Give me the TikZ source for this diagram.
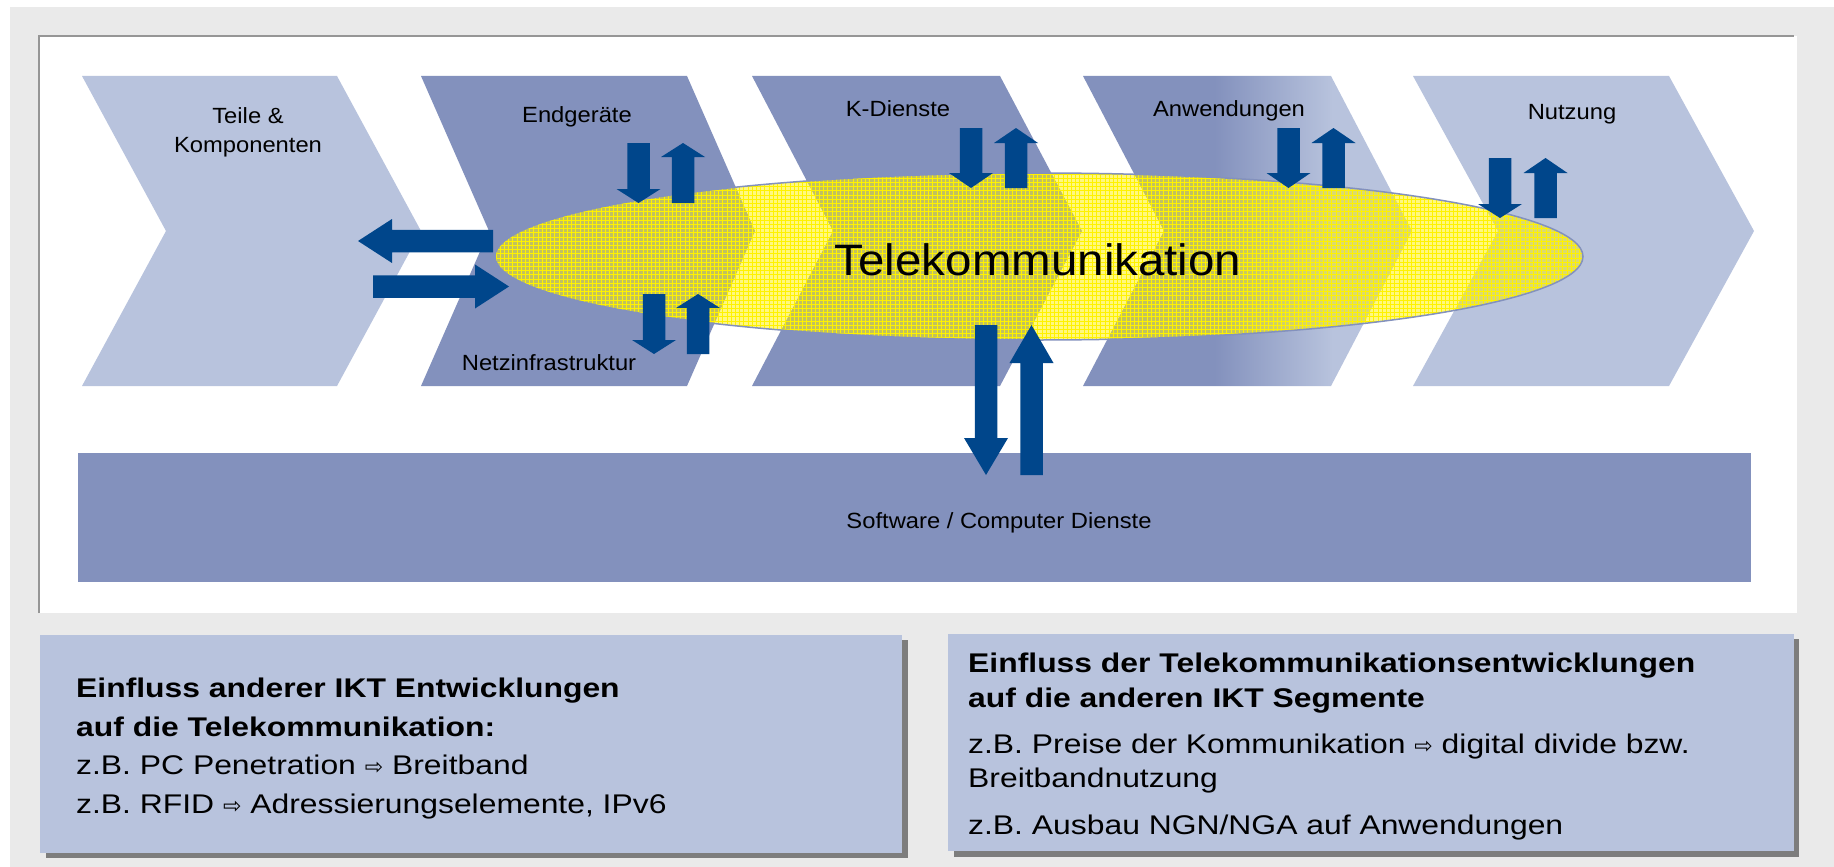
\documentclass[tikz,border=0pt]{standalone}
\usepackage{fontspec}
\setmainfont{Liberation Sans}[FakeStretch=1.08]
\newfontfamily\boxfont{Liberation Sans}[FakeStretch=1.18]
\newfontfamily\arrfont{DejaVu Sans}

\definecolor{chdark}{RGB}{131,145,189}
\definecolor{chlight}{RGB}{184,195,221}
\definecolor{arrblue}{RGB}{0,70,139}
\definecolor{bggrey}{RGB}{234,234,234}
\definecolor{rimgrey}{RGB}{150,150,150}
\definecolor{shadowgrey}{RGB}{125,125,125}

\pgfdeclarehorizontalshading{anwshade}{100bp}{color(0bp)=(chdark); color(45bp)=(chdark); color(63bp)=(chlight); color(100bp)=(chlight)}

% block arrows: centre, start, head base, tip
\newcommand{\varr}[4]{\fill[arrblue] ({#1-11.25},#2) -- ({#1-11.25},#3) -- ({#1-22},#3) -- (#1,#4) -- ({#1+22},#3) -- ({#1+11.25},#3) -- ({#1+11.25},#2) -- cycle;}
\newcommand{\harr}[4]{\fill[arrblue] (#2,{#1-11.25}) -- (#3,{#1-11.25}) -- (#3,{#1-22}) -- (#4,#1) -- (#3,{#1+22}) -- (#3,{#1+11.25}) -- (#2,{#1+11.25}) -- cycle;}
\newcommand{\impl}{{\arrfont\fontsize{22}{22}\selectfont ⇨}}

\begin{document}
\begin{tikzpicture}[x=1pt, y=-1pt,
    lbl/.style = {anchor=base, inner sep=0, font=\fontsize{22}{26}\selectfont},
    boxline/.style = {anchor=base west, inner sep=0, font=\boxfont\fontsize{27}{32}\selectfont},
    boxhead/.style = {boxline, font=\boxfont\fontsize{27}{32}\selectfont\bfseries}]
                \useasboundingbox (0,0) rectangle (1834,867);
                \fill[bggrey] (10,7) rectangle (1834,867);
                \fill[white] (39,36) rectangle (1797,613);
                \draw[rimgrey, line width=2] (39,613) -- (39,36) -- (1794,36);

                \fill[chlight] (82,76) -- (337,76) -- (421,231) -- (337,386) -- (82,386) -- (166,231) -- cycle;
                \fill[chdark] (421,76) -- (687,76) -- (755,231) -- (687,386) -- (421,386) -- (489,231) -- cycle;
                \fill[chdark] (752,76) -- (1000,76) -- (1082,231) -- (1000,386) -- (752,386) -- (833,231) -- cycle;
                \shade[shading=anwshade] (1083,76) -- (1331,76) -- (1412,231) -- (1331,386) -- (1083,386) -- (1164,231) -- cycle;
                \fill[chlight] (1413,76) -- (1669,76) -- (1754,231) -- (1669,386) -- (1413,386) -- (1498,231) -- cycle;

                \fill[chdark] (78,453) rectangle (1751,582);

                \fill[yellow, fill opacity=0.5] (1039,256.5) ellipse [x radius=544, y radius=83.5];
                \begin{scope}
                    \clip (1039,256.5) ellipse [x radius=544, y radius=83.5];
                    \foreach \gx in {496,500.2,...,1584} \draw[yellow, line width=0.7] (\gx,172) -- (\gx,341);
                    \foreach \gy in {174,178.2,...,341} \draw[yellow, line width=0.7] (494,\gy) -- (1584,\gy);
                \end{scope}
                \draw[chdark, line width=1.5] (1039,256.5) ellipse [x radius=544, y radius=83.5];
                \node[anchor=base, inner sep=0, font=\fontsize{44}{50}\selectfont] (tk) at (1038,275) {Telekommunikation};

                \harr{241}{493}{392}{358}
                \harr{286.5}{373}{475}{509}
                \varr{638.5}{143}{189}{203}
                \varr{683}{203}{157}{143}
                \varr{654}{294}{340}{354}
                \varr{698}{354}{308}{294}
                \varr{971}{128}{173}{188}
                \varr{1016}{188}{143}{128}
                \varr{1288.5}{128}{173}{188}
                \varr{1333.5}{188}{143}{128}
                \varr{1500}{158}{204}{218}
                \varr{1545.5}{218}{173}{158}
                \varr{986}{325}{438}{475}
                \varr{1031.5}{475}{363}{325}

                \node[lbl] (teile)  at (248,123)  {Teile \&};
                \node[lbl] (komp)   at (248,152)  {Komponenten};
                \node[lbl] (endg)   at (577,122)  {Endgeräte};
                \node[lbl] (netz)   at (549,370)  {Netzinfrastruktur};
                \node[lbl] (kdie)   at (898,117)  {K-Dienste};
                \node[lbl] (anw)    at (1229,116) {Anwendungen};
                \node[lbl] (nutz)   at (1572,119) {Nutzung};
                \node[lbl] (soft)   at (999,528)  {Software / Computer Dienste};

                \fill[shadowgrey] (46,640) rectangle (908,858);
                \fill[chlight] (40,635) rectangle (902,853);
                \fill[shadowgrey] (954,639) rectangle (1799,857);
                \fill[chlight] (948,634) rectangle (1794,851);

                \node[boxhead] (l1) at (76,697) {Einfluss anderer IKT Entwicklungen};
                \node[boxhead] (l2) at (76,736) {auf die Telekommunikation:};
                \node[boxline] (l3) at (76,774) {z.B. PC Penetration \impl{} Breitband};
                \node[boxline] (l4) at (76,813) {z.B. RFID \impl{} Adressierungselemente, IPv6};

                \node[boxhead] (r1) at (968,672) {Einfluss der Telekommunikationsentwicklungen};
                \node[boxhead] (r2) at (968,707) {auf die anderen IKT Segmente};
                \node[boxline] (r3) at (968,753) {z.B. Preise der Kommunikation \impl{} digital divide bzw.};
                \node[boxline] (r4) at (968,787) {Breitbandnutzung};
                \node[boxline] (r5) at (968,834) {z.B. Ausbau NGN/NGA auf Anwendungen};
            \end{tikzpicture}
\end{document}
